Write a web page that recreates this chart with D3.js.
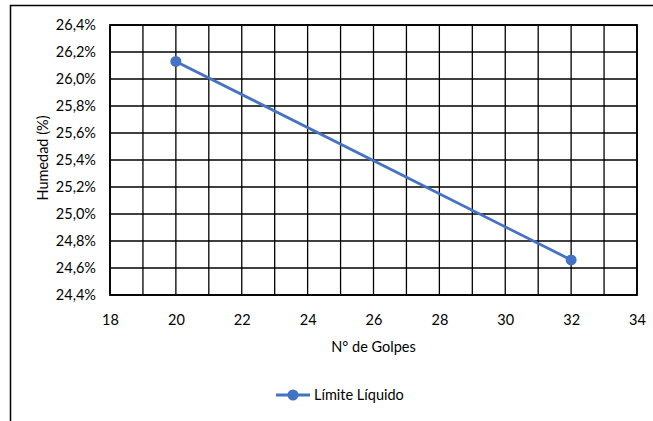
<!DOCTYPE html>
<html>
<head>
<meta charset="utf-8">
<script src="https://cdn.jsdelivr.net/npm/d3@7"></script>
<style>
  body { margin: 0; background: #fff; }
  text { font-family: Lato, "Open Sans", sans-serif; fill: #000; }
</style>
</head>
<body>
<div id="chart"></div>
<script>
// datos del ensayo
const golpes = [20, 32];
const humedad = [26.13, 24.66];
const serieNombre = "Límite Líquido";
const xTicks = [18, 20, 22, 24, 26, 28, 30, 32, 34];
const yTicks = [24.4, 24.6, 24.8, 25.0, 25.2, 25.4, 25.6, 25.8, 26.0, 26.2, 26.4];

const W = 653, H = 421;
const margin = {top: 25, right: 16, bottom: 126, left: 110};
const width = W - margin.left - margin.right;
const height = H - margin.top - margin.bottom;
const azul = "#4472C4";
const fs = "14.5px";

const svg = d3.select("#chart").append("svg")
    .attr("width", W)
    .attr("height", H);

// borde del gráfico
svg.append("rect")
    .attr("x", 10.5).attr("y", 5.5)
    .attr("width", W + 20).attr("height", H + 20)
    .attr("fill", "none").attr("stroke", "#000").attr("stroke-width", 1.5);

const g = svg.append("g").attr("transform", `translate(${margin.left},${margin.top})`);

const x = d3.scaleLinear().domain([18, 34]).range([0, width]);
const y = d3.scaleLinear().domain([24.4, 26.4]).range([height, 0]);

// rejilla vertical cada 1 golpe
g.append("g")
    .selectAll("line")
    .data(d3.range(18, 35, 1))
    .join("line")
    .attr("x1", d => x(d)).attr("x2", d => x(d))
    .attr("y1", 0).attr("y2", height)
    .attr("stroke", "#000").attr("stroke-width", 1.3);

// rejilla horizontal
g.append("g")
    .selectAll("line")
    .data(yTicks)
    .join("line")
    .attr("x1", 0).attr("x2", width)
    .attr("y1", d => y(d)).attr("y2", d => y(d))
    .attr("stroke", "#000").attr("stroke-width", 1.3);

g.append("rect")
    .attr("width", width).attr("height", height)
    .attr("fill", "none").attr("stroke", "#000").attr("stroke-width", 1.8);

const fmt = d => d.toFixed(1).replace(".", ",") + "%";

const xAxis = g.append("g")
    .attr("transform", `translate(0,${height})`)
    .call(d3.axisBottom(x).tickValues(xTicks).tickSize(0).tickPadding(20));
xAxis.select(".domain").remove();
xAxis.selectAll("text").style("font-size", fs).style("font-family", "Lato, sans-serif");

const yAxis = g.append("g")
    .call(d3.axisLeft(y).tickValues(yTicks).tickFormat(fmt).tickSize(0).tickPadding(14));
yAxis.select(".domain").remove();
yAxis.selectAll("text").style("font-size", fs).style("font-family", "Lato, sans-serif");

// títulos de ejes
svg.append("text")
    .attr("x", margin.left + width / 2).attr("y", 352)
    .attr("text-anchor", "middle")
    .style("font-size", fs)
    .text("N° de Golpes");

svg.append("text")
    .attr("transform", `translate(48,${margin.top + height / 2 - 2}) rotate(-90)`)
    .attr("text-anchor", "middle")
    .style("font-size", fs)
    .text("Humedad (%)");

// serie
const pts = golpes.map((d, i) => ({x: d, y: humedad[i]}));
g.append("path")
    .datum(pts)
    .attr("fill", "none")
    .attr("stroke", azul)
    .attr("stroke-width", 2.8)
    .attr("d", d3.line().x(d => x(d.x)).y(d => y(d.y)));

g.selectAll("circle")
    .data(pts)
    .join("circle")
    .attr("cx", d => x(d.x)).attr("cy", d => y(d.y))
    .attr("r", 5.5)
    .attr("fill", azul);

// leyenda
const leg = svg.append("g").attr("transform", "translate(276,395)");
leg.append("line").attr("x1", 0).attr("x2", 34).attr("stroke", azul).attr("stroke-width", 2.8);
leg.append("circle").attr("cx", 17).attr("r", 5.5).attr("fill", azul);
leg.append("text").attr("x", 38).attr("y", 5).style("font-size", fs).text(serieNombre);
</script>
</body>
</html>
